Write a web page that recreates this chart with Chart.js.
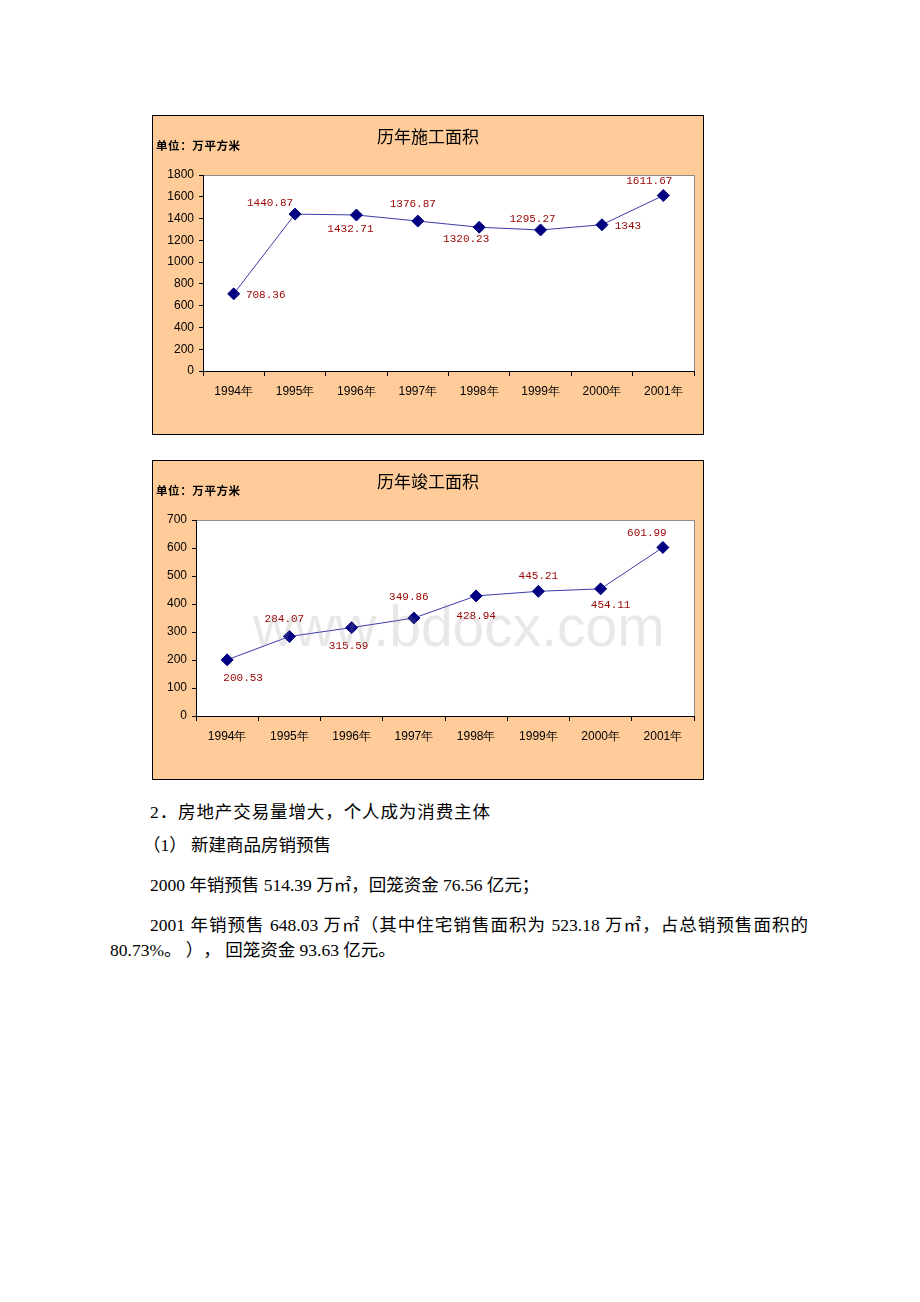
<!DOCTYPE html>
<html>
<head>
<meta charset="utf-8">
<script src="https://cdn.jsdelivr.net/npm/chart.js@4/dist/chart.umd.min.js"></script>
<style>
  html, body { margin: 0; padding: 0; background: #fff; }
  body { width: 920px; height: 1302px; position: relative; overflow: hidden; }
  .box { position: absolute; left: 152px; width: 550px; height: 318px; border: 1px solid #000; background: #FFCC99; }
  .box canvas { position: absolute; left: 0; top: 0; }
  .title { position: absolute; left: 0; width: 550px; text-align: center; font-family: "Noto Sans CJK SC", sans-serif; font-size: 17px; line-height: 20px; color: #000; }
  .unit { position: absolute; left: 3px; font-family: "Noto Sans CJK SC", sans-serif; font-size: 11.5px; font-weight: bold; line-height: 14px; color: #000; letter-spacing: 0.6px; }
  .wm { position: absolute; font-family: "Liberation Sans", Arial, sans-serif; font-size: 57px; line-height: 60px; color: rgba(150,150,150,0.22); white-space: nowrap; pointer-events: none; }
  .txt { position: absolute; font-family: "Liberation Serif", "Noto Sans CJK SC", serif; font-size: 17.5px; line-height: 24px; color: #000; white-space: nowrap; text-spacing-trim: space-all; }
</style>
</head>
<body>

<div class="box" style="top:115px;">
  <canvas id="c1" width="550" height="318"></canvas>
  <div class="title" style="top:10px;">历年施工面积</div>
  <div class="unit" style="top:22px;">单位：万平方米</div>
</div>

<div class="box" style="top:460px;">
  <canvas id="c2" width="550" height="318"></canvas>
  <div class="title" style="top:10px;">历年竣工面积</div>
  <div class="unit" style="top:22px;">单位：万平方米</div>
</div>

<div class="wm" style="left:253px; top:596px;">www.bdocx.com</div>

<div class="txt" style="left:150px; top:800px; letter-spacing:0.9px;">2．房地产交易量增大，个人成为消费主体</div>
<div class="txt" style="left:143px; top:833px;">（1） 新建商品房销预售</div>
<div class="txt" style="left:150px; top:873px;">2000 年销预售 514.39 万㎡，回笼资金 76.56 亿元；</div>
<div class="txt" style="left:150px; top:913px; width:658px; text-align:justify; text-align-last:justify;">2001 年销预售 648.03 万㎡（其中住宅销售面积为 523.18 万㎡，占总销预售面积的</div>
<div class="txt" style="left:110px; top:938px;">80.73%。 ）， 回笼资金 93.63 亿元。</div>

<script>
// ---------- data ----------
const years = ['1994年', '1995年', '1996年', '1997年', '1998年', '1999年', '2000年', '2001年'];
const startedArea = [708.36, 1440.87, 1432.71, 1376.87, 1320.23, 1295.27, 1343, 1611.67];   // 历年施工面积
const completedArea = [200.53, 284.07, 315.59, 349.86, 428.94, 445.21, 454.11, 601.99];      // 历年竣工面积
const startedTicks = [0, 200, 400, 600, 800, 1000, 1200, 1400, 1600, 1800];
const completedTicks = [0, 100, 200, 300, 400, 500, 600, 700];

// ---------- label placement (pixel offsets from each marker, style only) ----------
const startedLabelOffsets = [[32, 1], [-25, -11], [-6, 14], [-5, -17], [-13, 12], [-8, -11], [26, 1], [-14, -14]];
const completedLabelOffsets = [[16, 18], [-5, -17], [-3, 18], [-5, -21], [0, 20], [0, -15], [10, 16], [-16, -14]];

const plotFrame = {
  id: 'plotFrame',
  beforeDraw(chart) {
    const a = chart.chartArea, c = chart.ctx;
    c.save();
    c.fillStyle = '#ffffff';
    c.fillRect(a.left, a.top, a.right - a.left, a.bottom - a.top);
    c.strokeStyle = '#8c8c8c';
    c.lineWidth = 1;
    c.beginPath();
    c.moveTo(Math.round(a.left) + 0.5, Math.round(a.top) + 0.5);
    c.lineTo(Math.round(a.right) + 0.5, Math.round(a.top) + 0.5);
    c.lineTo(Math.round(a.right) + 0.5, Math.round(a.bottom) + 0.5);
    c.stroke();
    c.restore();
  }
};

const valueLabels = {
  id: 'valueLabels',
  afterDatasetsDraw(chart, args, opts) {
    const c = chart.ctx;
    const meta = chart.getDatasetMeta(0);
    const data = chart.data.datasets[0].data;
    c.save();
    c.fillStyle = '#990000';
    c.font = '11px "Liberation Mono", "DejaVu Sans Mono", monospace';
    c.textAlign = 'center';
    c.textBaseline = 'middle';
    meta.data.forEach((pt, i) => {
      const o = opts.offsets[i] || [0, -12];
      c.fillText(String(data[i]), pt.x + o[0], pt.y + o[1]);
    });
    c.restore();
  }
};

function makeChart(id, values, ticks, offsets, yWidth) {
  const tickFont = { family: '"Liberation Sans", Arial, sans-serif', size: 12 };
  return new Chart(document.getElementById(id), {
    type: 'line',
    data: {
      labels: years,
      datasets: [{
        data: values,
        borderColor: '#3c3caa',
        borderWidth: 1,
        pointStyle: 'rectRot',
        pointRadius: 6,
        pointHoverRadius: 6,
        pointBackgroundColor: '#000080',
        pointBorderColor: '#000080',
        tension: 0,
        clip: false
      }]
    },
    options: {
      responsive: false,
      animation: false,
      events: [],
      layout: { padding: { top: 59, right: 9, left: 0, bottom: 0 } },
      plugins: {
        legend: { display: false },
        tooltip: { enabled: false },
        valueLabels: { offsets: offsets }
      },
      scales: {
        x: {
          type: 'category',
          offset: true,
          grid: { offset: true, drawOnChartArea: false, tickLength: 5, color: '#000', lineWidth: 1 },
          border: { color: '#000', width: 1 },
          ticks: { color: '#000', font: tickFont, padding: 8, maxRotation: 0, autoSkip: false },
          afterFit(s) { s.height = 63; }
        },
        y: {
          min: ticks[0],
          max: ticks[ticks.length - 1],
          grid: { drawOnChartArea: false, tickLength: 4, color: '#000', lineWidth: 1 },
          border: { color: '#000', width: 1 },
          ticks: { stepSize: ticks[1] - ticks[0], color: '#000', font: tickFont, padding: 5,
                   callback: (v) => String(v) },
          afterFit(s) { s.width = yWidth; }
        }
      }
    },
    plugins: [plotFrame, valueLabels]
  });
}

makeChart('c1', startedArea, startedTicks, startedLabelOffsets, 50);
makeChart('c2', completedArea, completedTicks, completedLabelOffsets, 43);
</script>
</body>
</html>
